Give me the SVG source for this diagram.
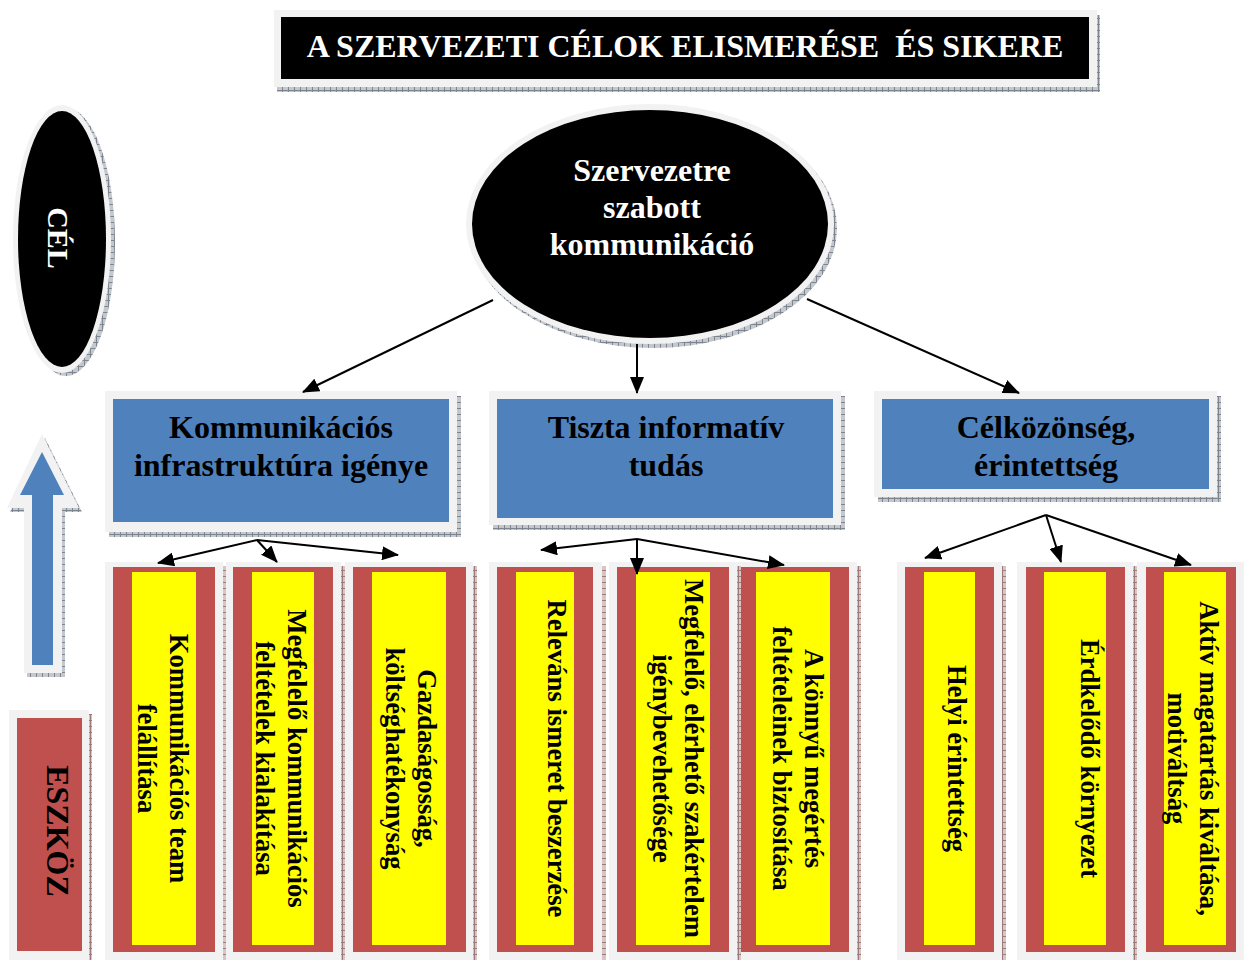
<svg xmlns="http://www.w3.org/2000/svg" width="1244" height="960" viewBox="0 0 1244 960">
<style>
.t{font-family:"Liberation Serif","Times New Roman",serif;font-weight:bold}
.w{fill:#fff}
.k{fill:#000}
.f32{font-size:32px}
.f27{font-size:26.67px}
.brd{fill:#f2f2f2}
.blue{fill:#4f81bd}
.red{fill:#c0504d}
.yel{fill:#ffff00}
.sh{fill:url(#hatch)}
.shr{fill:url(#hatchr)}
.con{stroke:#000;stroke-width:2;fill:none;marker-end:url(#ah)}
</style>
<defs>
<pattern id="hatch" width="6" height="6" patternUnits="userSpaceOnUse"><rect width="6" height="6" fill="#c4c8cc"/><path d="M0,0.5H6M0.5,0V6" stroke="#7d8590" stroke-width="1"/></pattern>
<pattern id="hatchr" width="6" height="6" patternUnits="userSpaceOnUse"><rect width="6" height="6" fill="#d9c4c4"/><path d="M0,0.5H6M0.5,0V6" stroke="#9c7a7a" stroke-width="1"/></pattern>
<marker id="ah" markerWidth="17" markerHeight="14" refX="16" refY="7" orient="auto" markerUnits="userSpaceOnUse"><path d="M0,0L17,7L0,14z" fill="#000"/></marker>
</defs>
<rect width="1244" height="960" fill="#fff"/>

<g id="title">
<rect class="sh" x="277" y="15" width="823" height="77"/>
<rect class="brd" x="274" y="10" width="823" height="77"/>
<rect x="281" y="17" width="808" height="62" fill="#000"/>
<text class="t w f32" x="685" y="57" text-anchor="middle" xml:space="preserve">A SZERVEZETI CÉLOK ELISMERÉSE  ÉS SIKERE</text>
</g>

<g id="cel">
<ellipse class="sh" cx="66" cy="242" rx="49" ry="134"/>
<ellipse class="brd" cx="62" cy="239" rx="49" ry="134"/>
<ellipse cx="62" cy="239" rx="44" ry="128" fill="#000"/>
<text class="t w" font-size="30" transform="translate(48,238) rotate(90)" text-anchor="middle">CÉL</text>
</g>

<g id="up-arrow">
<polygon class="sh" points="45,438 82,512 65,512 65,677 27,677 27,512 10,512"/>
<polygon class="brd" points="42,434 79,508 62,508 62,673 24,673 24,508 7,508"/>
<polygon class="blue" points="42,452 64,495 53,495 53,665 32,665 32,495 20,495"/>
</g>

<g id="eszkoz">
<rect class="shr" x="12" y="714" width="80" height="250"/>
<rect class="brd" x="9" y="710" width="80" height="250"/>
<rect class="red" x="17" y="718" width="65" height="233"/>
<text class="t k f32" transform="translate(47,831) rotate(90)" text-anchor="middle">ESZKÖZ</text>
</g>

<g id="center">
<ellipse class="sh" cx="653" cy="228" rx="184" ry="120"/>
<ellipse class="brd" cx="650" cy="224" rx="184" ry="120"/>
<ellipse cx="650" cy="224" rx="178" ry="114" fill="#000"/>
<text class="t w f32" text-anchor="middle"><tspan x="652" y="181">Szervezetre</tspan><tspan x="652" y="218">szabott</tspan><tspan x="652" y="255">kommunikáció</tspan></text>
</g>

<g id="box-infra">
<rect class="sh" x="109" y="396" width="352" height="141"/>
<rect class="brd" x="105" y="391" width="352" height="141"/>
<rect class="blue" x="113" y="399" width="336" height="123"/>
<text class="t k f32" text-anchor="middle"><tspan x="281" y="438">Kommunikációs</tspan><tspan x="281" y="476">infrastruktúra igénye</tspan></text>
</g>

<g id="box-tudas">
<rect class="sh" x="493" y="396" width="352" height="134"/>
<rect class="brd" x="489" y="391" width="352" height="134"/>
<rect class="blue" x="497" y="399" width="336" height="119"/>
<text class="t k f32" text-anchor="middle"><tspan x="666" y="438">Tiszta informatív</tspan><tspan x="666" y="476">tudás</tspan></text>
</g>

<g id="box-celkozonseg">
<rect class="sh" x="878" y="396" width="343" height="106"/>
<rect class="brd" x="874" y="391" width="343" height="106"/>
<rect class="blue" x="882" y="399" width="327" height="90"/>
<text class="t k f32" text-anchor="middle"><tspan x="1046" y="438">Célközönség,</tspan><tspan x="1046" y="476">érintettség</tspan></text>
</g>

<g id="a1">
<rect class="shr" x="109" y="566" width="118" height="400"/>
<rect class="brd" x="105" y="562" width="118" height="400"/>
<rect class="red" x="113" y="567" width="102" height="385"/>
<rect class="yel" x="132" y="572" width="64" height="373"/>
<text class="t k f27" transform="translate(170,758.5) rotate(90)" text-anchor="middle"><tspan x="0" y="0">Kommunikációs team</tspan><tspan x="0" y="32">felállítása</tspan></text>
</g>

<g id="a2">
<rect class="shr" x="230" y="566" width="115" height="400"/>
<rect class="brd" x="226" y="562" width="115" height="400"/>
<rect class="red" x="233" y="567" width="100" height="385"/>
<rect class="yel" x="252" y="572" width="62" height="373"/>
<text class="t k f27" transform="translate(288,758.5) rotate(90)" text-anchor="middle"><tspan x="0" y="0">Megfelelő kommunikációs</tspan><tspan x="0" y="32">feltételek kialakítása</tspan></text>
</g>

<g id="a3">
<rect class="shr" x="349" y="566" width="128" height="400"/>
<rect class="brd" x="345" y="562" width="128" height="400"/>
<rect class="red" x="353" y="567" width="113" height="385"/>
<rect class="yel" x="372" y="572" width="74" height="373"/>
<text class="t k f27" transform="translate(418,758.5) rotate(90)" text-anchor="middle"><tspan x="0" y="0">Gazdaságosság,</tspan><tspan x="0" y="32">költséghatékonyság</tspan></text>
</g>

<g id="b1">
<rect class="shr" x="493" y="566" width="113" height="400"/>
<rect class="brd" x="489" y="562" width="113" height="400"/>
<rect class="red" x="497" y="567" width="96" height="385"/>
<rect class="yel" x="516" y="572" width="58" height="373"/>
<text class="t k f27" transform="translate(548,758.5) rotate(90)" text-anchor="middle">Releváns ismeret beszerzése</text>
</g>

<g id="b3">
<rect class="shr" x="737" y="566" width="124" height="400"/>
<rect class="brd" x="733" y="562" width="124" height="400"/>
<rect class="red" x="740" y="567" width="109" height="385"/>
<rect class="yel" x="756" y="572" width="74" height="373"/>
<text class="t k f27" transform="translate(805,758.5) rotate(90)" text-anchor="middle"><tspan x="0" y="0">A könnyű megértés</tspan><tspan x="0" y="32">feltételeinek biztosítása</tspan></text>
</g>

<g id="b2">
<rect class="shr" x="613" y="566" width="128" height="400"/>
<rect class="brd" x="609" y="562" width="128" height="400"/>
<rect class="red" x="617" y="567" width="112" height="385"/>
<rect class="yel" x="636" y="572" width="74" height="373"/>
<text class="t k f27" transform="translate(685,758.5) rotate(90)" text-anchor="middle"><tspan x="0" y="0">Megfelelő, elérhető szakértelem</tspan><tspan x="0" y="32">igénybevehetősége</tspan></text>
</g>

<g id="c1">
<rect class="shr" x="901" y="566" width="105" height="400"/>
<rect class="brd" x="897" y="562" width="105" height="400"/>
<rect class="red" x="905" y="567" width="89" height="385"/>
<rect class="yel" x="924" y="572" width="51" height="373"/>
<text class="t k f27" transform="translate(948,758.5) rotate(90)" text-anchor="middle">Helyi érintettség</text>
</g>

<g id="c2">
<rect class="shr" x="1021" y="566" width="116" height="400"/>
<rect class="brd" x="1017" y="562" width="116" height="400"/>
<rect class="red" x="1026" y="567" width="99" height="385"/>
<rect class="yel" x="1044" y="572" width="62" height="373"/>
<text class="t k f27" transform="translate(1081,758.5) rotate(90)" text-anchor="middle">Érdkelődő környezet</text>
</g>

<g id="c3">
<rect class="brd" x="1137" y="562" width="110" height="400"/>
<rect class="red" x="1146" y="567" width="90" height="385"/>
<rect class="yel" x="1164" y="572" width="62" height="373"/>
<text class="t k f27" transform="translate(1200,758.5) rotate(90)" text-anchor="middle"><tspan x="0" y="0">Aktív magatartás kiváltása,</tspan><tspan x="0" y="32">motiváltság</tspan></text>
</g>

<g id="connectors">
<line class="con" x1="493" y1="300" x2="303" y2="392"/>
<line class="con" x1="637" y1="344" x2="637" y2="393"/>
<line class="con" x1="807" y1="299" x2="1019" y2="393"/>
<line class="con" x1="257" y1="540" x2="158" y2="563"/>
<line class="con" x1="257" y1="540" x2="277" y2="562"/>
<line class="con" x1="257" y1="540" x2="398" y2="555"/>
<line class="con" x1="637" y1="539" x2="541" y2="550"/>
<line class="con" x1="637" y1="539" x2="637" y2="574"/>
<line class="con" x1="637" y1="539" x2="784" y2="565"/>
<line class="con" x1="1046" y1="515" x2="925" y2="558"/>
<line class="con" x1="1046" y1="515" x2="1061" y2="562"/>
<line class="con" x1="1046" y1="515" x2="1191" y2="565"/>
</g>
</svg>
